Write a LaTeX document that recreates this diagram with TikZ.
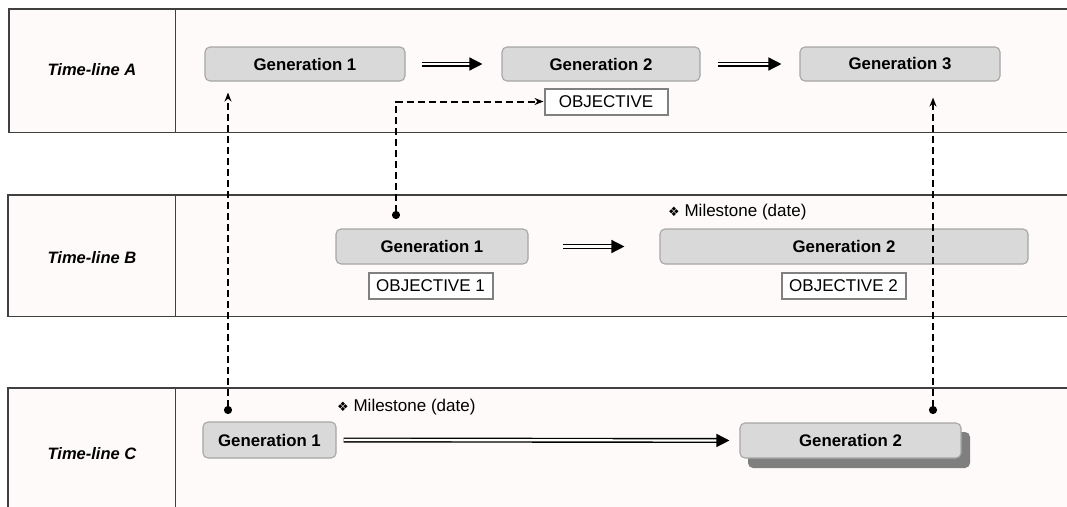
\documentclass[tikz,border=0pt]{standalone}
\usepackage{fontspec}
\setmainfont{Liberation Sans}
\newfontfamily\symfont{DejaVu Sans}
\usetikzlibrary{arrows.meta,calc}
\definecolor{bandfill}{HTML}{FEFAF9}
\definecolor{bandline}{HTML}{404040}
\definecolor{genfill}{HTML}{D9D9D9}
\definecolor{genline}{HTML}{A6A6A6}
\definecolor{objline}{HTML}{808080}
\definecolor{shadowc}{HTML}{7F7F7F}
\begin{document}
\begin{tikzpicture}[x=1pt,y=-1pt,
  band/.style={draw=bandline,line width=1.6pt,fill=bandfill},
  tlabel/.style={font=\fontsize{16.5}{19}\selectfont\bfseries\itshape},
  gen/.style={draw=genline,fill=genfill,line width=1.1pt,rounded corners=5pt,
    font=\fontsize{16.8}{19}\selectfont\bfseries,inner sep=0pt},
  obj/.style={draw=objline,fill=white,line width=2pt,inner sep=0pt,
    font=\fontsize{17}{19}\selectfont},
  mile/.style={font=\fontsize{17}{19}\selectfont,inner sep=0pt,anchor=west},
  dashcon/.style={line width=2pt,dash pattern=on 7pt off 4pt,
    {Circle[length=8pt,sep=0pt]}-{Stealth[length=9pt,width=7pt]}},
  dblarrow/.style={double,double distance=2.2pt,line width=1.4pt,
    -{Triangle[length=13pt,width=13pt]}}
]
\useasboundingbox (0,0) rectangle (1067,506);
\clip (0,0) rectangle (1067,506);
% bands
\draw[band] (9,9) rectangle (1080,132.5);
\draw[band] (8,195) rectangle (1080,316.5);
\draw[band] (8,388) rectangle (1080,530);
\draw[bandline,line width=1.6pt] (175.5,9) -- (175.5,132.5);
\draw[bandline,line width=1.6pt] (175.5,195) -- (175.5,316.5);
\draw[bandline,line width=1.6pt] (175.5,388) -- (175.5,530);
\node[tlabel] (tA) at (92,70) {Time-line A};
\node[tlabel] (tB) at (92,258) {Time-line B};
\node[tlabel] (tC) at (92,454) {Time-line C};
% Time-line A
\node[gen,minimum width=200pt,minimum height=34pt] (ag1) at (305,64) {Generation 1};
\node[gen,minimum width=198pt,minimum height=34pt] (ag2) at (601,64) {Generation 2};
\node[gen,minimum width=200pt,minimum height=34pt] (ag3) at (900,64) {Generation 3};
\node[obj,minimum width=123pt,minimum height=26pt] (objA) at (606,101.5) {OBJECTIVE};
\draw[dblarrow,shorten <=16pt,shorten >=19pt] (ag1.east) -- (ag2.west);
\draw[dblarrow,shorten <=17pt,shorten >=18pt] (ag2.east) -- (ag3.west);
% Time-line B
\node[gen,minimum width=192pt,minimum height=35pt] (bg1) at (432,246.5) {Generation 1};
\node[gen,minimum width=368pt,minimum height=35pt] (bg2) at (844,246.5) {Generation 2};
\node[obj,minimum width=124pt,minimum height=26pt] (objB1) at (430.5,285.5) {OBJECTIVE 1};
\node[obj,minimum width=124pt,minimum height=26pt] (objB2) at (843.5,285.5) {OBJECTIVE 2};
\node[mile] (mB) at (668,212) {{\symfont\fontsize{13}{15}\selectfont ❖} Milestone (date)};
\draw[dblarrow,shorten <=34pt,shorten >=35pt] (bg1.east) -- (bg2.west);
% Time-line C
\node[gen,minimum width=133pt,minimum height=36pt] (cg1) at (269.5,440) {Generation 1};
\fill[shadowc,rounded corners=5pt] (748,432) rectangle (970,468);
\node[gen,minimum width=221pt,minimum height=35pt] (cg2) at (850.5,440.5) {Generation 2};
\node[mile] (mC) at (337,407) {{\symfont\fontsize{13}{15}\selectfont ❖} Milestone (date)};
\draw[dblarrow,shorten <=7pt,shorten >=10pt] (cg1.east) -- (cg2.west);
% dashed connectors
\coordinate (dB) at (396,219);
\coordinate (dC1) at (228,414);
\coordinate (dC2) at (933,414);
\draw[dashcon] (dB) |- (objA.west);
\draw[dashcon,shorten >=11pt] (dC1) -- (dC1 |- ag1.south);
\draw[dashcon,shorten >=16pt] (dC2) -- (dC2 |- ag3.south);
\end{tikzpicture}
\end{document}
